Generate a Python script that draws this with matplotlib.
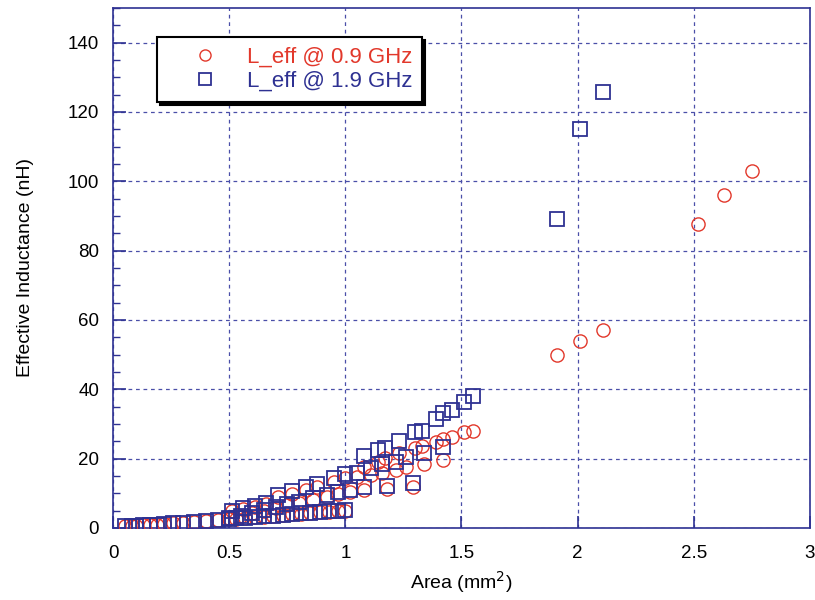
import numpy as np
import matplotlib
matplotlib.use('Agg')
import matplotlib.pyplot as plt
from matplotlib.ticker import MultipleLocator

plt.rcParams['font.family'] = ['Liberation Sans', 'DejaVu Sans']

# spiral inductor families: area (mm^2) vs effective inductance (nH)
# small inductors, low row
area_a = [0.05, 0.08, 0.10, 0.13, 0.16, 0.19, 0.22, 0.26, 0.30, 0.35, 0.40,
          0.45, 0.50, 0.53, 0.57, 0.61, 0.65, 0.69, 0.73, 0.77, 0.81, 0.85,
          0.89, 0.93, 0.97, 1.00]
l09_a = [0.5, 0.6, 0.7, 0.8, 0.9, 1.0, 1.1, 1.3, 1.5, 1.7, 1.9,
         2.2, 2.5, 2.7, 2.9, 3.1, 3.3, 3.5, 3.7, 3.9, 4.1, 4.3,
         4.5, 4.7, 4.9, 5.0]
l19_a = [0.5, 0.6, 0.7, 0.8, 0.9, 1.0, 1.1, 1.3, 1.5, 1.7, 2.0,
         2.3, 2.6, 2.8, 3.0, 3.2, 3.4, 3.6, 3.8, 4.0, 4.2, 4.4,
         4.6, 4.8, 5.0, 5.2]

# middle row
area_b = [0.50, 0.55, 0.60, 0.65, 0.70, 0.75, 0.80, 0.86, 0.92, 0.97, 1.02,
          1.08, 1.18, 1.29]
l09_b = [2.8, 3.5, 4.2, 5.0, 5.8, 6.6, 7.3, 8.2, 9.0, 9.8, 10.3,
         11.0, 11.3, 11.9]
l19_b = [2.9, 3.6, 4.4, 5.2, 6.0, 6.9, 7.6, 8.6, 9.5, 10.3, 10.9,
         11.7, 12.0, 13.0]

# upper row
area_c = [0.51, 0.56, 0.61, 0.66, 0.71, 0.77, 0.83, 0.88, 0.95, 1.00, 1.05,
          1.11, 1.16, 1.22, 1.26, 1.34, 1.42]
l09_c = [4.8, 5.6, 6.0, 6.8, 8.8, 9.8, 11.0, 11.8, 13.2, 14.5, 14.8,
         15.3, 15.9, 16.8, 17.6, 18.5, 19.7]
l19_c = [5.0, 5.9, 6.4, 7.2, 9.5, 10.6, 11.9, 12.8, 14.3, 15.5, 16.0,
         17.4, 18.5, 19.1, 20.5, 21.7, 23.4]

# steepest row
area_d = [1.08, 1.14, 1.17, 1.23, 1.30, 1.33, 1.39, 1.42, 1.46, 1.51, 1.55]
l09_d = [17.6, 19.0, 20.2, 21.7, 23.1, 23.7, 24.9, 25.7, 26.3, 27.8, 28.1]
l19_d = [20.8, 22.6, 23.1, 25.2, 27.8, 28.1, 31.5, 33.2, 34.1, 36.4, 38.2]

# large inductors (1.9 GHz values above 150 nH are off scale)
area_e = [1.91, 2.01, 2.11, 2.52, 2.63, 2.75]
l09_e = [49.8, 53.8, 57.0, 87.6, 96.0, 103.0]
l19_e = [89.1, 115.1, 125.8, np.nan, np.nan, np.nan]

area = area_a + area_b + area_c + area_d + area_e
l_09 = l09_a + l09_b + l09_c + l09_d + l09_e
l_19 = l19_a + l19_b + l19_c + l19_d + l19_e

red = '#e2382b'
blue = '#2e3192'

fig = plt.figure(figsize=(8.15, 6.0), dpi=100)
ax = fig.add_axes([0.1387, 0.12, 0.855, 0.8667])

ax.plot(area, l_09, linestyle='none', marker='o', markersize=9.5,
        markerfacecolor='none', markeredgecolor=red, markeredgewidth=1.0,
        label='L_eff @ 0.9 GHz', zorder=3)
ax.plot(area, l_19, linestyle='none', marker='s', markersize=9.5,
        markerfacecolor='none', markeredgecolor=blue, markeredgewidth=1.3,
        label='L_eff @ 1.9 GHz', zorder=3)

ax.set_xlim(0, 3)
ax.set_ylim(0, 150)
ax.yaxis.set_major_locator(MultipleLocator(20))
ax.yaxis.set_minor_locator(MultipleLocator(5))
ax.set_xticks([0, 0.5, 1, 1.5, 2, 2.5, 3])
ax.set_xticklabels(['0', '0.5', '1', '1.5', '2', '2.5', '3'])

ax.grid(True, which='major', color='#4a4fa8', linestyle=(0, (3, 3)),
        linewidth=0.9)
ax.set_axisbelow(True)
for s in ax.spines.values():
    s.set_color(blue)
    s.set_linewidth(1.2)
ax.tick_params(which='major', direction='in', length=9, width=1.2,
               color=blue, labelsize=13.5, pad=10)
ax.tick_params(which='minor', direction='in', length=5, width=1.0,
               color=blue)
ax.tick_params(axis='x', pad=12)

ax.set_xlabel('Area (mm$^2$)', fontsize=14, labelpad=5)
ax.set_ylabel('Effective Inductance (nH)', fontsize=14, labelpad=24)

leg = ax.legend(loc='upper left', bbox_to_anchor=(0.063, 0.944),
                borderaxespad=0, fontsize=16, frameon=True, fancybox=False,
                shadow={'color': 'black', 'alpha': 1.0},
                handlelength=3.4, handletextpad=0.2, borderpad=0.45,
                labelspacing=0.12, labelcolor='markeredgecolor')
leg.get_frame().set_edgecolor('black')
leg.get_frame().set_linewidth(1.5)
leg.get_frame().set_alpha(1.0)
for h in leg.legend_handles:
    h.set_markersize(8)

fig.savefig('out.png', dpi=100)
